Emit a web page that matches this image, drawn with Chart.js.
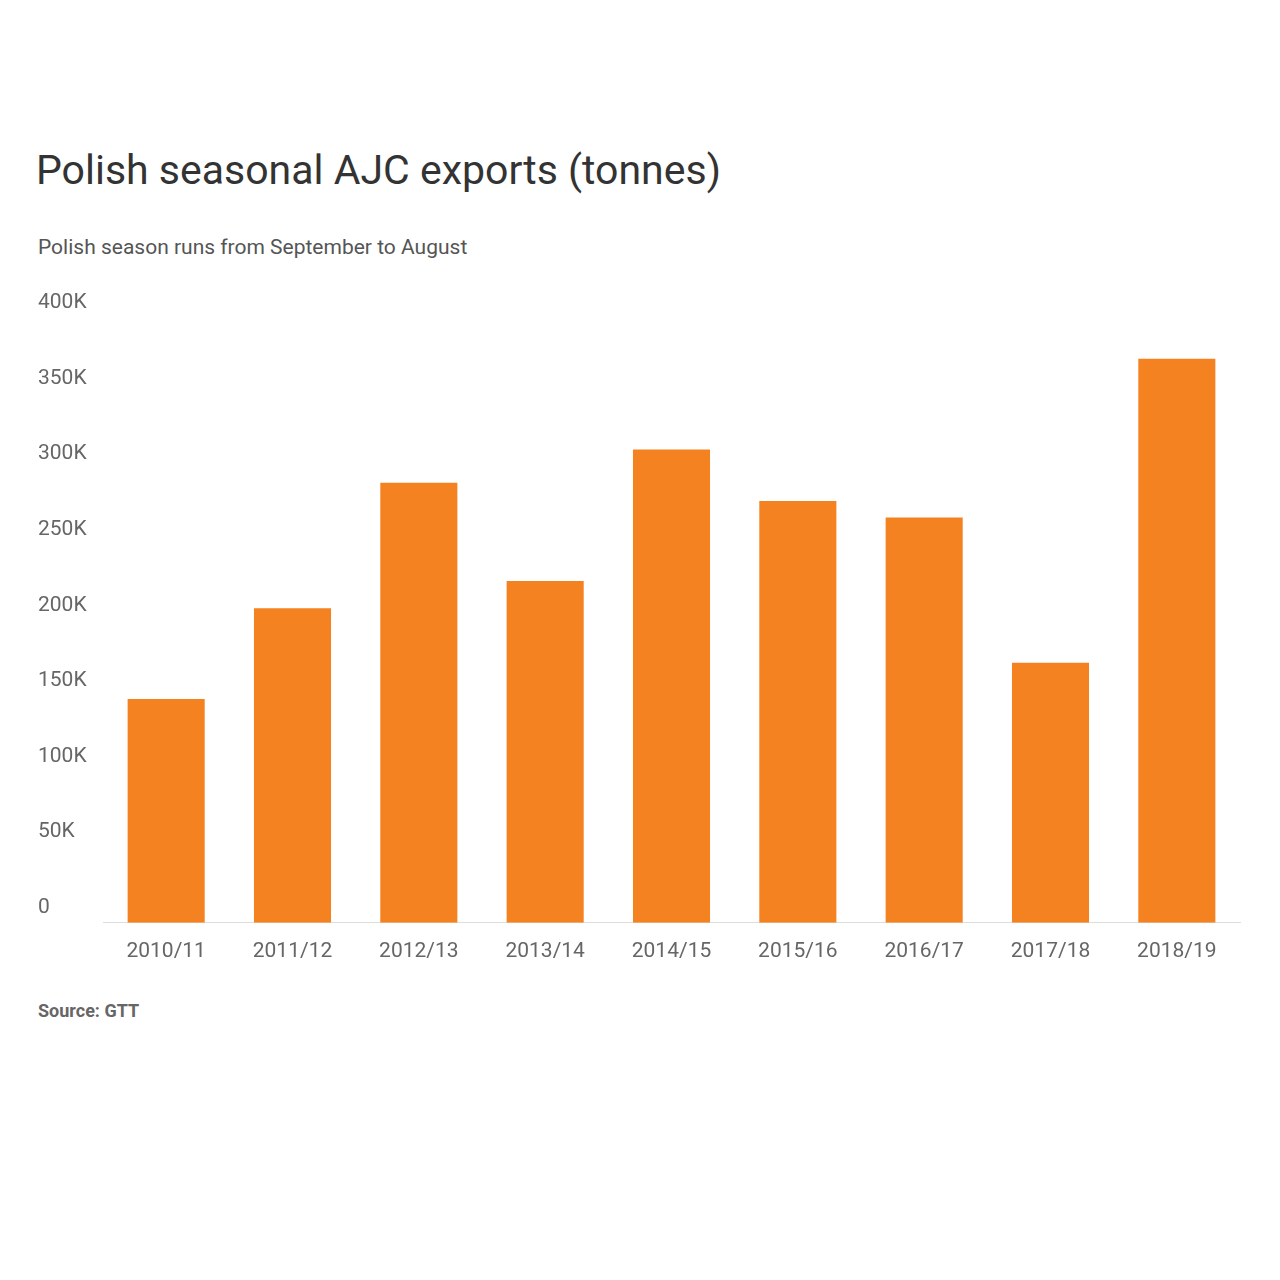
<!DOCTYPE html>
<html><head><meta charset="utf-8">
<script src="https://cdn.jsdelivr.net/npm/chart.js@4"></script>
<style>
body{margin:0;width:1280px;height:1280px;background:#fff;position:relative;font-family:Roboto,"Open Sans",sans-serif;}
#t{position:absolute;left:36px;top:146px;font-size:41px;color:#333;}
#s{position:absolute;left:38px;top:235px;font-size:21px;color:#555;}
#src{position:absolute;left:38px;top:1000px;font-size:18px;font-weight:bold;color:#666;}
#w{position:absolute;left:30px;top:290px;width:1220px;height:682px;}
</style></head><body>
<div id="t">Polish seasonal AJC exports (tonnes)</div>
<div id="s">Polish season runs from September to August</div>
<div id="w"><canvas id="c"></canvas></div>
<div id="src">Source: GTT</div>
<script>
const categories=["2010/11","2011/12","2012/13","2013/14","2014/15","2015/16","2016/17","2017/18","2018/19"];
const exportsTonnes=[148000,208000,291000,226000,313000,279000,268000,172000,373000];
const yTicks=[0,50000,100000,150000,200000,250000,300000,350000,400000];
const yTickLabels=["0","50K","100K","150K","200K","250K","300K","350K","400K"];
const yLabels={id:'yl',afterDraw(ch){const c=ch.ctx,s=ch.scales.y;c.save();c.font='21px Roboto, sans-serif';c.fillStyle='#666';c.textAlign='left';c.textBaseline='middle';
yTicks.forEach((v,i)=>c.fillText(yTickLabels[i],8,s.getPixelForValue(v)-15));c.restore();}};
new Chart(document.getElementById('c'),{type:'bar',
data:{labels:categories,datasets:[{data:exportsTonnes,backgroundColor:'#f58220',barPercentage:0.61,categoryPercentage:1}]},
options:{responsive:true,maintainAspectRatio:false,animation:false,
layout:{padding:{top:28,left:65,right:10}},
plugins:{legend:{display:false},tooltip:{enabled:false}},
scales:{x:{grid:{display:false},border:{color:'#ddd'},ticks:{color:'#666',font:{size:21,family:'Roboto'},padding:8}},
y:{min:0,max:400000,ticks:{display:false,stepSize:50000},grid:{display:false},border:{display:false}}}},
plugins:[yLabels]});
</script></body></html>
